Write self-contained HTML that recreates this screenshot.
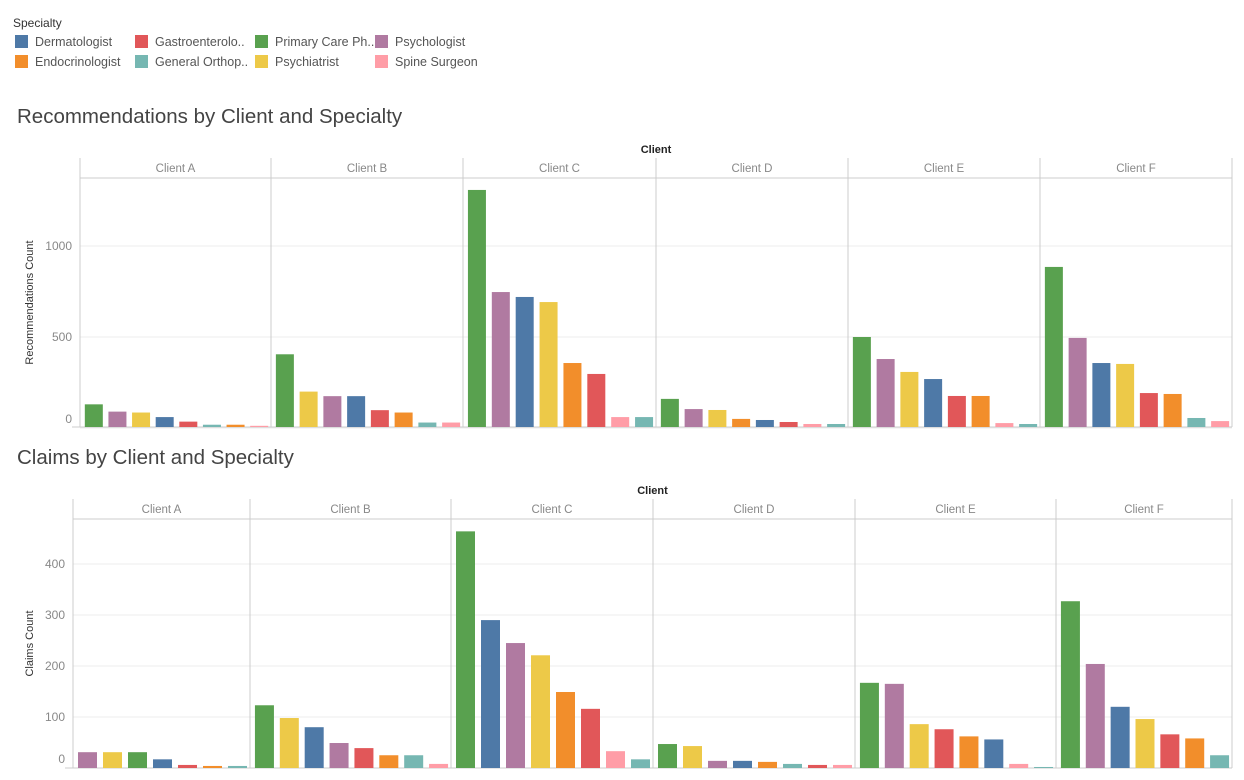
<!DOCTYPE html>
<html><head><meta charset="utf-8"><style>
body{margin:0;width:1244px;height:780px;background:#fff;overflow:hidden;font-family:"Liberation Sans",sans-serif}
svg{position:absolute;left:0;top:0}
</style></head><body>
<svg id="s" width="1244" height="780"></svg>
<script>
const specialties=["Dermatologist","Endocrinologist","Gastroenterolo..","General Orthop..","Primary Care Ph..","Psychiatrist","Psychologist","Spine Surgeon"];
const colors={D:"#4e79a7",E:"#f28e2b",G:"#e15759",O:"#76b7b2",P:"#59a14f",Y:"#edc948",S:"#b07aa1",K:"#ff9da7"};
const specKeys=["D","E","G","O","P","Y","S","K"];
const clients=["Client A","Client B","Client C","Client D","Client E","Client F"];
// Recommendations: order and values per client
const recOrder=[["P","S","Y","D","G","O","E","K"],["P","Y","S","D","G","E","O","K"],["P","S","D","Y","E","G","K","O"],["P","S","Y","E","D","G","K","O"],["P","S","Y","D","G","E","K","O"],["P","S","D","Y","G","E","O","K"]];
const recValues=[[130,90,85,60,35,18,18,12],[405,200,175,175,98,85,30,30],[1308,747,720,692,357,297,60,60],[160,104,99,50,44,33,22,22],[500,379,308,269,176,176,27,22],[885,495,357,352,192,187,55,38]];
const recTicks=[0,500,1000];
// Claims
const clmOrder=[["S","Y","P","D","G","E","O"],["P","Y","D","S","G","E","O","K"],["P","D","S","Y","E","G","K","O"],["P","Y","S","D","E","O","G","K"],["P","S","Y","G","E","D","K","O"],["P","S","D","Y","G","E","O"]];
const clmValues=[[31,31,31,17,6,4,4],[123,98,80,49,39,25,25,8],[464,290,245,221,149,116,33,17],[47,43,14,14,12,8,6,6],[167,165,86,76,62,56,8,2],[327,204,120,96,66,58,25]];
const clmTicks=[0,100,200,300,400];

const s=document.getElementById('s');const NS="http://www.w3.org/2000/svg";
function mk(t,a,txt){const e=document.createElementNS(NS,t);for(const k in a)e.setAttribute(k,a[k]);if(txt!=null)e.textContent=txt;s.appendChild(e);return e;}

// legend
let e=mk('text',{x:13,y:27,'font-size':12,fill:'#333'},'Specialty');


const legOrder=[0,2,4,6,1,3,5,7];
legOrder.forEach((si,i)=>{const col=i%4,row=Math.floor(i/4);const x=15+col*120,y=35+row*20;
 let r=mk('rect',{x:x,y:y,width:13,height:13,fill:colors[specKeys[si]]});
 
 
 let t=mk('text',{x:x+20,y:y+11,'font-size':12.5,fill:'#555'},specialties[si]);
 
 
});

function chart(o){
 const {title,titleY,top,bot,zeroY,pxPer,bounds,order,values,ticks,yTitle,tickX,name,barW}=o;
 let t=mk('text',{x:17,y:titleY,'font-size':20.5,fill:'#444'},title);
 
 
 const L=bounds[0],R=bounds[bounds.length-1];
 t=mk('text',{x:(L+R)/2,y:top-5,'font-size':11,'font-weight':'bold','text-anchor':'middle',fill:'#222'},'Client');
 
 
 const y=v=>zeroY-v*pxPer;
 ticks.forEach(v=>{let g=mk('line',{x1:L,x2:R,y1:y(v),y2:y(v),stroke:'#eee'});
  
  
  let tt=mk('text',{x:tickX,y:v===0?y(v)-5:y(v)+4,'font-size':12,'text-anchor':'end',fill:'#888'},String(v));
  
  });
 const yt=mk('text',{x:0,y:0,'font-size':11,'text-anchor':'middle',fill:'#333',transform:`translate(33,${(top+20+bot)/2}) rotate(-90)`},yTitle);
 
 
 mk('line',{x1:L,x2:R,y1:top+20,y2:top+20,stroke:'#ccc'});
 mk('line',{x1:L-8,x2:R,y1:bot,y2:bot,stroke:'#ccc'});
 bounds.forEach(b=>mk('line',{x1:b,x2:b,y1:top,y2:bot,stroke:'#ccc'}));
 clients.forEach((c,ci)=>{const x0=bounds[ci],x1=bounds[ci+1];
  let h=mk('text',{x:(x0+x1)/2,y:top+14,'font-size':11.5,'text-anchor':'middle',fill:'#888'},c);
  
  
  const n=order[ci].length,slot=(x1-x0-2)/n;
  order[ci].forEach((k,i)=>{const v=values[ci][i];
   let r=mk('rect',{x:x0+2+i*slot+(slot-barW)/2,y:y(v),width:barW,height:Math.max(0,bot-y(v)),fill:colors[k]});
   
   });
 });
}
chart({title:'Recommendations by Client and Specialty',titleY:123,top:158,bot:427,zeroY:428,pxPer:0.182,bounds:[80,271,463,656,848,1040,1232],order:recOrder,values:recValues,ticks:recTicks,yTitle:'Recommendations Count',tickX:72,name:'recommendations-chart',barW:18});
chart({title:'Claims by Client and Specialty',titleY:464,top:499,bot:768,zeroY:768,pxPer:0.51,bounds:[73,250,451,653,855,1056,1232],order:clmOrder,values:clmValues,ticks:clmTicks,yTitle:'Claims Count',tickX:65,name:'claims-chart',barW:19});
</script></body></html>
